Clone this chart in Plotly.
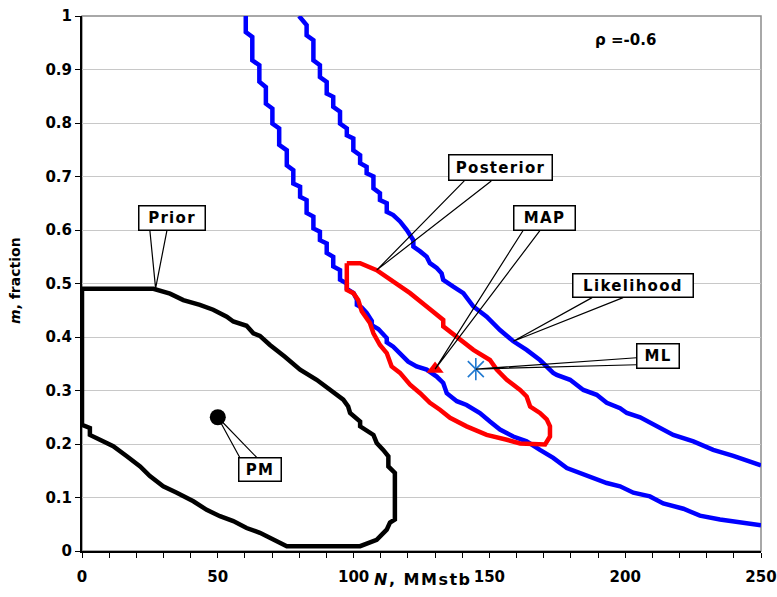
import plotly.graph_objects as go

# ---- contour data (N in MMstb, m as fraction) ----
# Likelihood contour, lower-left branch
lik_lo_N = [60.3, 60.3, 62.7, 62.7, 65.3, 65.3, 67.7, 67.7, 70.1, 70.1, 72.6, 72.6,
            75.4, 75.4, 77.8, 77.8, 80.3, 80.3, 82.7, 82.7, 85.2, 85.2, 87.6, 87.6,
            90.1, 90.1, 92.5, 92.5, 95.0, 95.0, 97.5, 97.5, 100.0, 101.2, 101.2, 103.0,
            104.8, 106.7, 106.7, 109.1, 112.2, 112.2, 114.6, 117.1, 120.1, 123.2, 126.9,
            130.6, 133.0, 134.3, 138.0, 141.6, 146.5, 150.2, 153.9, 158.8, 163.7, 168.6,
            173.5, 178.5, 183.4, 188.3, 193.2, 198.1, 203.0, 209.1, 214.0, 221.4, 227.5,
            234.9, 242.3, 250.0]
lik_lo_m = [1.000, 0.970, 0.961, 0.917, 0.908, 0.877, 0.867, 0.836, 0.827, 0.799, 0.790, 0.759,
            0.749, 0.721, 0.712, 0.687, 0.681, 0.662, 0.656, 0.632, 0.625, 0.603, 0.597, 0.581,
            0.575, 0.557, 0.550, 0.532, 0.525, 0.507, 0.500, 0.490, 0.482, 0.470, 0.460, 0.455,
            0.445, 0.430, 0.422, 0.415, 0.398, 0.390, 0.382, 0.370, 0.354, 0.345, 0.339,
            0.326, 0.314, 0.295, 0.280, 0.273, 0.258, 0.242, 0.227, 0.214, 0.205, 0.189,
            0.174, 0.155, 0.146, 0.137, 0.127, 0.121, 0.109, 0.102, 0.089, 0.079, 0.066,
            0.059, 0.054, 0.048]

# Likelihood contour, upper-right branch
lik_hi_N = [79.9, 82.7, 82.7, 85.2, 85.2, 87.6, 87.6, 90.1, 90.1, 92.5, 92.5, 95.0, 95.0,
            97.5, 97.5, 99.9, 99.9, 102.4, 102.4, 104.8, 104.8, 107.3, 107.3, 109.7, 109.7,
            112.2, 112.2, 114.6, 117.1, 119.6, 122.0, 122.0, 124.5, 126.9, 128.1, 130.6,
            132.4, 133.0, 136.7, 140.4, 144.1, 149.0, 153.9, 158.8, 163.7, 168.6, 173.5,
            174.8, 179.7, 184.6, 189.5, 193.2, 198.1, 200.6, 205.5, 212.8, 217.7, 225.1,
            232.4, 239.8, 250.0]
lik_hi_m = [1.000, 0.983, 0.964, 0.955, 0.917, 0.908, 0.886, 0.877, 0.855, 0.849, 0.830, 0.821, 0.799,
            0.790, 0.777, 0.771, 0.749, 0.740, 0.725, 0.718, 0.706, 0.700, 0.678, 0.669, 0.656,
            0.650, 0.634, 0.628, 0.616, 0.600, 0.581, 0.569, 0.560, 0.550, 0.538, 0.529,
            0.519, 0.507, 0.494, 0.482, 0.457, 0.438, 0.413, 0.392, 0.376, 0.357, 0.333,
            0.329, 0.320, 0.301, 0.292, 0.277, 0.267, 0.258, 0.250, 0.230, 0.217, 0.205,
            0.189, 0.178, 0.160]

# Posterior contour (closed)
post_N = [97.5, 102.4, 108.5, 114.6, 120.8, 126.9, 133.0, 133.0, 138.0, 144.1, 150.2, 152.7,
          156.4, 161.3, 163.7, 165.0, 168.6, 171.1, 172.3, 172.3, 170.5, 165.0, 161.3, 156.4,
          149.0, 141.6, 135.5, 131.8, 128.1, 124.5, 120.8, 117.1, 114.0, 112.2, 109.7, 107.3,
          106.0, 103.0, 101.7, 99.9, 97.5, 97.5]
post_m = [0.538, 0.538, 0.525, 0.504, 0.482, 0.457, 0.432, 0.420, 0.401, 0.376, 0.357, 0.339,
          0.320, 0.301, 0.289, 0.270, 0.258, 0.246, 0.233, 0.214, 0.199, 0.199, 0.201, 0.208,
          0.217, 0.233, 0.249, 0.264, 0.277, 0.295, 0.311, 0.333, 0.345, 0.370, 0.385, 0.407,
          0.426, 0.448, 0.469, 0.482, 0.488, 0.538]

# Prior contour (closed)
prior_N = [0.0, 26.3, 32.4, 37.3, 43.4, 48.3, 53.3, 55.7, 60.6, 63.1, 65.5, 69.2, 74.7, 80.3,
           86.4, 92.5, 96.2, 98.0, 98.7, 102.4, 102.4, 107.3, 108.5, 110.9, 112.8, 112.8, 115.2,
           115.2, 113.4, 112.2, 108.5, 102.4, 75.4, 65.5, 60.6, 55.7, 50.8, 45.9, 41.0, 34.9,
           29.9, 25.0, 21.4, 16.5, 11.5, 6.6, 2.9, 2.9, 0.0, 0.0]
prior_m = [0.490, 0.490, 0.481, 0.469, 0.460, 0.451, 0.438, 0.429, 0.421, 0.407, 0.402, 0.385,
           0.363, 0.339, 0.320, 0.298, 0.283, 0.270, 0.258, 0.242, 0.233, 0.217, 0.202, 0.189,
           0.177, 0.158, 0.146, 0.059, 0.053, 0.040, 0.021, 0.009, 0.009, 0.034, 0.043, 0.056,
           0.065, 0.077, 0.093, 0.109, 0.121, 0.140, 0.158, 0.177, 0.196, 0.208, 0.217, 0.230,
           0.236, 0.490]

# Point estimates
pm_point = (50.0, 0.25)    # prior mean
map_point = (130.0, 0.34)  # maximum a posteriori
ml_point = (145.0, 0.34)   # maximum likelihood

rho_label = "ρ =-0.6"

x_ticks = [0, 50, 100, 150, 200, 250]
y_ticks = [0, 0.1, 0.2, 0.3, 0.4, 0.5, 0.6, 0.7, 0.8, 0.9, 1]
y_ticktext = ["0", "0.1", "0.2", "0.3", "0.4", "0.5", "0.6", "0.7", "0.8", "0.9", "1"]

# ---- geometry ----
W, H = 777, 597
ML_, MR_, MT_, MB_ = 82, 16, 16, 46
PW, PH = W - ML_ - MR_, H - MT_ - MB_
X_RANGE, Y_RANGE = (0, 250), (0, 1)
SX = PW / (X_RANGE[1] - X_RANGE[0])  # px per MMstb
SY = PH / (Y_RANGE[1] - Y_RANGE[0])  # px per unit m

FONT = "DejaVu Sans"
BLUE, RED, BLACK = "#0000ff", "#ff0000", "#000000"

fig = go.Figure()

fig.add_trace(go.Scatter(x=lik_lo_N, y=lik_lo_m, mode="lines",
                         line=dict(color=BLUE, width=4.5)))
fig.add_trace(go.Scatter(x=lik_hi_N, y=lik_hi_m, mode="lines",
                         line=dict(color=BLUE, width=4.5)))
fig.add_trace(go.Scatter(x=post_N, y=post_m, mode="lines",
                         line=dict(color=RED, width=4.5)))
fig.add_trace(go.Scatter(x=prior_N, y=prior_m, mode="lines",
                         line=dict(color=BLACK, width=4.5)))

fig.add_trace(go.Scatter(x=[pm_point[0]], y=[pm_point[1]], mode="markers",
                         marker=dict(symbol="circle", size=16, color=BLACK)))
fig.add_trace(go.Scatter(x=[map_point[0]], y=[map_point[1]], mode="markers",
                         marker=dict(symbol="triangle-up", size=15, color=RED)))
for sym in ("x-thin", "line-ns"):
    fig.add_trace(go.Scatter(x=[ml_point[0]], y=[ml_point[1]], mode="markers",
                             marker=dict(symbol=sym, size=16, color="#1f78d0",
                                         line=dict(color="#1f78d0", width=1.6))))


def to_data(n, m, dx_px, dy_px):
    """Offset a data point by a screen distance (dy positive = downward)."""
    return n + dx_px / SX, m - dy_px / SY


# Callouts: label, box centre (data), box size (px), tip (data), wedge base offsets (px)
callouts = [
    ("Posterior", (154.0, 0.716), (104, 26), (108.5, 0.525), (-36, 13), (-9, 13)),
    ("MAP", (170.2, 0.623), (62, 25), map_point, (-21, 12.5), (-4, 12.5)),
    ("Likelihood", (202.9, 0.496), (121, 24), (158.8, 0.392), (-41, 12), (-10, 12)),
    ("ML", (212.1, 0.365), (43, 25), ml_point, (-21.5, 2), (-21.5, 9)),
    ("Prior", (33.1, 0.622), (67, 25), (27.1, 0.491), (-22, 12.5), (-5, 12.5)),
    ("PM", (65.5, 0.152), (43, 24), pm_point, (-20, -12), (-3, -12)),
]

shapes = [
    # grey frame on the top/right sides
    dict(type="rect", xref="x domain", yref="y domain", x0=0, x1=1, y0=0, y1=1,
         line=dict(color="#8c8c8c", width=1.5), fillcolor="rgba(0,0,0,0)", layer="below"),
]
annotations = []
for label, centre, size, tip, b1, b2 in callouts:
    p1 = to_data(centre[0], centre[1], *b1)
    p2 = to_data(centre[0], centre[1], *b2)
    path = f"M {p1[0]},{p1[1]} L {tip[0]},{tip[1]} L {p2[0]},{p2[1]}"
    shapes.append(dict(type="path", xref="x", yref="y", path=path,
                       line=dict(color=BLACK, width=1.2), layer="above"))
    annotations.append(dict(
        x=centre[0], y=centre[1], xref="x", yref="y", showarrow=False,
        text=f"<span style='letter-spacing:1.3px'>{label}</span>",
        font=dict(family=FONT, size=15, color=BLACK, weight="bold"),
        bgcolor="white", bordercolor=BLACK, borderwidth=1.5, borderpad=0,
        width=size[0] - 2, height=size[1] - 2, xanchor="center", yanchor="middle",
    ))

annotations.append(dict(x=200.2, y=0.955, xref="x", yref="y", showarrow=False,
                        text=rho_label, font=dict(family=FONT, size=15, color=BLACK, weight="bold")))
annotations.append(dict(x=0.5015, y=-0.054, xref="paper", yref="paper", showarrow=False,
                        text="<span style='letter-spacing:1.5px'><i>N</i>, MMstb</span>",
                        yanchor="middle",
                        font=dict(family=FONT, size=16, color=BLACK, weight="bold")))
annotations.append(dict(x=-0.0987, y=0.5065, xref="paper", yref="paper", showarrow=False,
                        text="<i>m</i>, fraction", textangle=-90, xanchor="center",
                        yanchor="middle",
                        font=dict(family=FONT, size=14, color=BLACK, weight="bold")))

fig.update_layout(
    width=W, height=H,
    margin=dict(l=ML_, r=MR_, t=MT_, b=MB_, autoexpand=False),
    paper_bgcolor="white", plot_bgcolor="white",
    showlegend=False,
    shapes=shapes, annotations=annotations,
    font=dict(family=FONT, color=BLACK),
    xaxis=dict(range=list(X_RANGE), tickvals=x_ticks, showgrid=False, zeroline=False,
               automargin=False,
               showline=True, linecolor=BLACK, linewidth=1.5,
               ticks="outside", ticklen=5, tickwidth=1, tickcolor=BLACK,
               ticklabelstandoff=6,
               minor=dict(dtick=10, ticks="outside", ticklen=5, tickwidth=1,
                          tickcolor=BLACK, showgrid=False),
               tickfont=dict(family=FONT, size=15, color=BLACK, weight="bold")),
    yaxis=dict(range=list(Y_RANGE), tickvals=y_ticks, ticktext=y_ticktext,
               showgrid=True, gridcolor="#c8c8c8", gridwidth=1, zeroline=False,
               automargin=False,
               showline=True, linecolor=BLACK, linewidth=2,
               ticks="outside", ticklen=5, tickwidth=1, tickcolor=BLACK,
               ticklabelstandoff=0,
               tickfont=dict(family=FONT, size=15, color=BLACK, weight="bold")),
)

fig.write_html("out.html")
